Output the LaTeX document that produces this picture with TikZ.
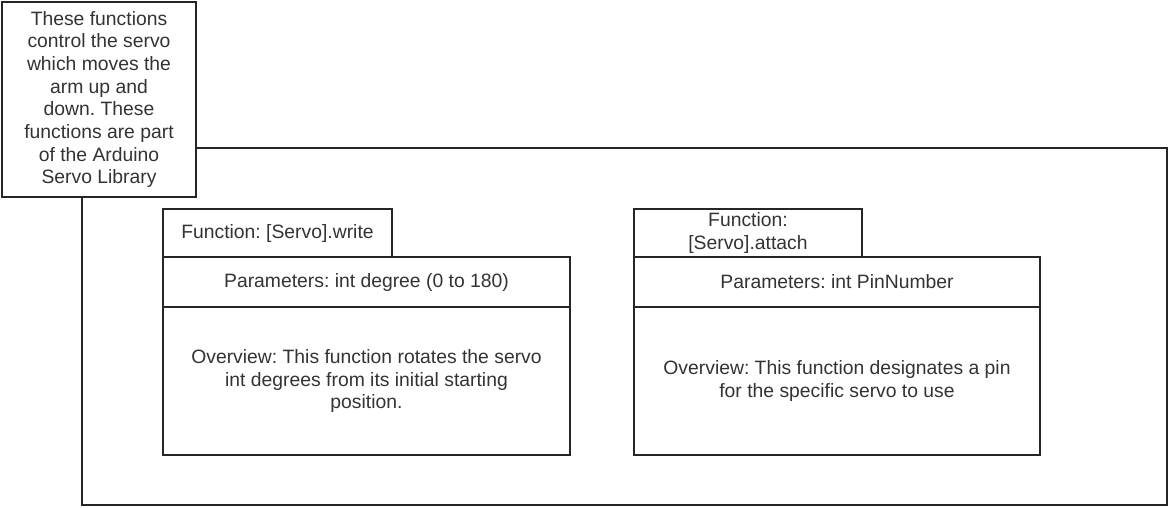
\documentclass[tikz,border=0pt]{standalone}
\usepackage{fontspec}
\setmainfont{Liberation Sans}
\frenchspacing
\usetikzlibrary{positioning}
\definecolor{linegray}{HTML}{262626}
\definecolor{textgray}{HTML}{333333}

\begin{document}
\begin{tikzpicture}[x=0.75pt, y=-0.75pt,
    every node/.style={font=\fontsize{14.5}{17}\selectfont, text=textgray},
    boxpart/.style={draw=linegray, line width=1.5pt, rectangle, inner sep=0pt, outer sep=0pt, align=center}]

  % Canvas
  \useasboundingbox[fill=white] (0, 0) rectangle (1171, 507);

  % Outer frame
  \node[boxpart, anchor=north west, minimum width=813.75pt, minimum height=267.75pt] (frame) at (82, 148) {};

  % Function: write
  \node[boxpart, anchor=north west, minimum width=171.75pt, minimum height=36pt] (writetab) at (163, 209) {Function: [Servo].write};
  \node[boxpart, below right=0pt and 0pt of writetab.south west, minimum width=305.25pt, minimum height=37.5pt] (writeparam) {Parameters: int degree (0 to 180)};
  \node[boxpart, below right=0pt and 0pt of writeparam.south west, minimum width=305.25pt, minimum height=111pt] (writeview) {Overview: This function rotates the servo\\int degrees from its initial starting\\position.};

  % Function: attach
  \node[boxpart, anchor=north west, minimum width=171pt, minimum height=36pt] (attachtab) at (634, 209) {Function:\\{[Servo].attach}};
  \node[boxpart, below right=0pt and 0pt of attachtab.south west, minimum width=304.5pt, minimum height=37.5pt] (attachparam) {Parameters: int PinNumber};
  \node[boxpart, below right=0pt and 0pt of attachparam.south west, minimum width=304.5pt, minimum height=111pt] (attachview) {Overview: This function designates a pin\\for the specific servo to use};

  % Note (on top of the frame corner)
  \node[boxpart, fill=white, anchor=north west, minimum width=145.5pt, minimum height=146.25pt] (note) at (2, 2) {These functions\\control the servo\\which moves the\\arm up and\\down. These\\functions are part\\of the Arduino\\Servo Library};

\end{tikzpicture}
\end{document}
